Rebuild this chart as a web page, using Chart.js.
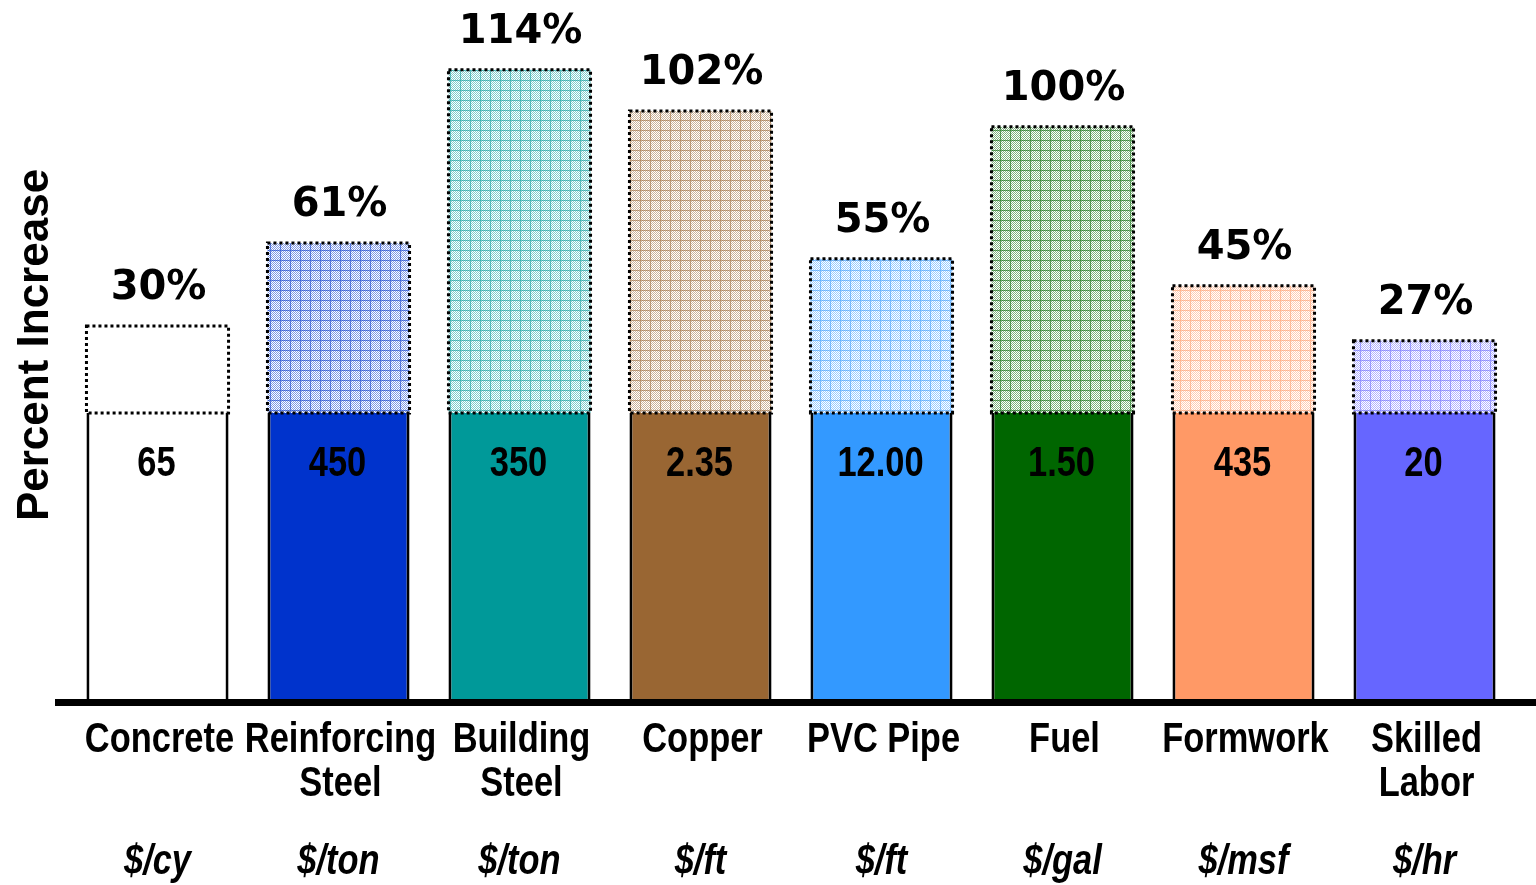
<!DOCTYPE html>
<html lang="en">
<head>
    <meta charset="UTF-8">
    <title>Percent Increase</title>
    <script src="https://cdn.jsdelivr.net/npm/chart.js"></script>
    <style>
        html, body { margin: 0; padding: 0; background: #ffffff; }
        #wrap { width: 1536px; height: 885px; }
    </style>
</head>
<body>
    <div id="wrap"><canvas id="increaseChart" width="1536" height="885"></canvas></div>
    <script>
        // Donnees
        const categories = ['Concrete', ['Reinforcing', 'Steel'], ['Building', 'Steel'], 'Copper', 'PVC Pipe', 'Fuel', 'Formwork', ['Skilled', 'Labor']];
        const units = ['$/cy', '$/ton', '$/ton', '$/ft', '$/ft', '$/gal', '$/msf', '$/hr'];
        const basePrices = ['65', '450', '350', '2.35', '12.00', '1.50', '435', '20'];
        const baseHeight = [100, 100, 100, 100, 100, 100, 100, 100];
        const increaseHeight = [30.3, 59.2, 119.5, 105.2, 53.7, 99.7, 44.3, 25.1];
        const increaseLabels = ['30%', '61%', '114%', '102%', '55%', '100%', '45%', '27%'];
        const baseColors = ['#ffffff', '#0033cc', '#009999', '#996633', '#3399ff', '#006600', '#ff9966', '#6666ff'];

        const arial = '"Liberation Sans", Arial, sans-serif';

        // petit motif quadrille pour la partie "hausse"
        function makePattern(color) {
            if (color === '#ffffff') return '#ffffff';
            const c = document.createElement('canvas');
            c.width = 10; c.height = 10;
            const g = c.getContext('2d');
            g.fillStyle = '#ffffff';
            g.fillRect(0, 0, 10, 10);
            g.fillStyle = color;
            g.globalAlpha = 0.5;
            for (let i = 0; i < 10; i++) {
                for (let j = 0; j < 10; j++) {
                    if ((i + j) % 2 === 0) g.fillRect(i, j, 1, 1);
                }
            }
            g.globalAlpha = 0.55;
            g.fillRect(0, 0, 10, 1);
            g.fillRect(0, 1, 1, 9);
            return g.createPattern(c, 'repeat');
        }

        // texte "narrow" : Arial gras comprime horizontalement
        function narrowText(ctx, txt, x, y) {
            ctx.save();
            ctx.translate(x, y);
            ctx.scale(0.82, 1);
            ctx.fillText(txt, 0, 0);
            ctx.restore();
        }

        const overlay = {
            id: 'overlay',
            afterDatasetsDraw(chart) {
                const ctx = chart.ctx;
                const baseMeta = chart.getDatasetMeta(0);
                const topMeta = chart.getDatasetMeta(1);
                const xs = chart.scales.x;
                ctx.save();

                // bordure pointillee de la partie haute
                ctx.strokeStyle = '#000000';
                ctx.lineWidth = 3;
                ctx.setLineDash([3, 3]);
                topMeta.data.forEach(el => {
                    const p = el.getProps(['x', 'y', 'base', 'width'], true);
                    ctx.strokeRect(p.x - p.width / 2, p.y, p.width, p.base - p.y);
                });
                ctx.setLineDash([]);

                // axe horizontal epais
                ctx.fillStyle = '#000000';
                ctx.fillRect(55, 699, 1481, 7);

                ctx.textAlign = 'center';
                ctx.textBaseline = 'middle';

                // pourcentages au-dessus
                ctx.font = 'bold 40px "DejaVu Sans", Verdana, sans-serif';
                topMeta.data.forEach((el, i) => {
                    ctx.fillText(increaseLabels[i], el.x + 1, el.y - 37);
                });

                // prix de base dans les barres
                ctx.font = 'bold 42px ' + arial;
                baseMeta.data.forEach((el, i) => {
                    narrowText(ctx, basePrices[i], el.x - 1, el.y + 52);
                });

                // categories (1 ou 2 lignes)
                ctx.font = 'bold 42px ' + arial;
                categories.forEach((c, i) => {
                    const lines = Array.isArray(c) ? c : [c];
                    const x = xs.getPixelForValue(i) + 2;
                    lines.forEach((l, k) => narrowText(ctx, l, x, 740 + k * 44));
                });

                // unites sous les categories
                ctx.font = 'italic bold 42px ' + arial;
                units.forEach((u, i) => {
                    narrowText(ctx, u, xs.getPixelForValue(i), 862);
                });

                // titre de l'axe
                ctx.translate(36, 345);
                ctx.rotate(-Math.PI / 2);
                ctx.font = 'bold 44px ' + arial;
                ctx.fillText('Percent Increase', 0, 0);
                ctx.restore();
            }
        };

        const ctx = document.getElementById('increaseChart').getContext('2d');
        new Chart(ctx, {
            type: 'bar',
            data: {
                labels: categories,
                datasets: [{
                    label: 'Base',
                    data: baseHeight,
                    backgroundColor: baseColors,
                    borderColor: '#000000',
                    borderWidth: { left: 3, right: 3, top: 0, bottom: 0 },
                    borderSkipped: false
                }, {
                    label: 'Increase',
                    data: increaseHeight,
                    backgroundColor: baseColors.map(makePattern),
                    borderWidth: 0
                }]
            },
            plugins: [overlay],
            options: {
                responsive: false,
                animation: false,
                layout: { padding: { left: 67, right: 21, top: 11, bottom: 185 } },
                datasets: { bar: { categoryPercentage: 1, barPercentage: 0.785 } },
                plugins: {
                    legend: { display: false },
                    tooltip: { enabled: false }
                },
                scales: {
                    x: {
                        display: false,
                        stacked: true
                    },
                    y: {
                        display: false,
                        stacked: true,
                        min: 0,
                        max: 240
                    }
                }
            }
        });
    </script>
</body>
</html>
